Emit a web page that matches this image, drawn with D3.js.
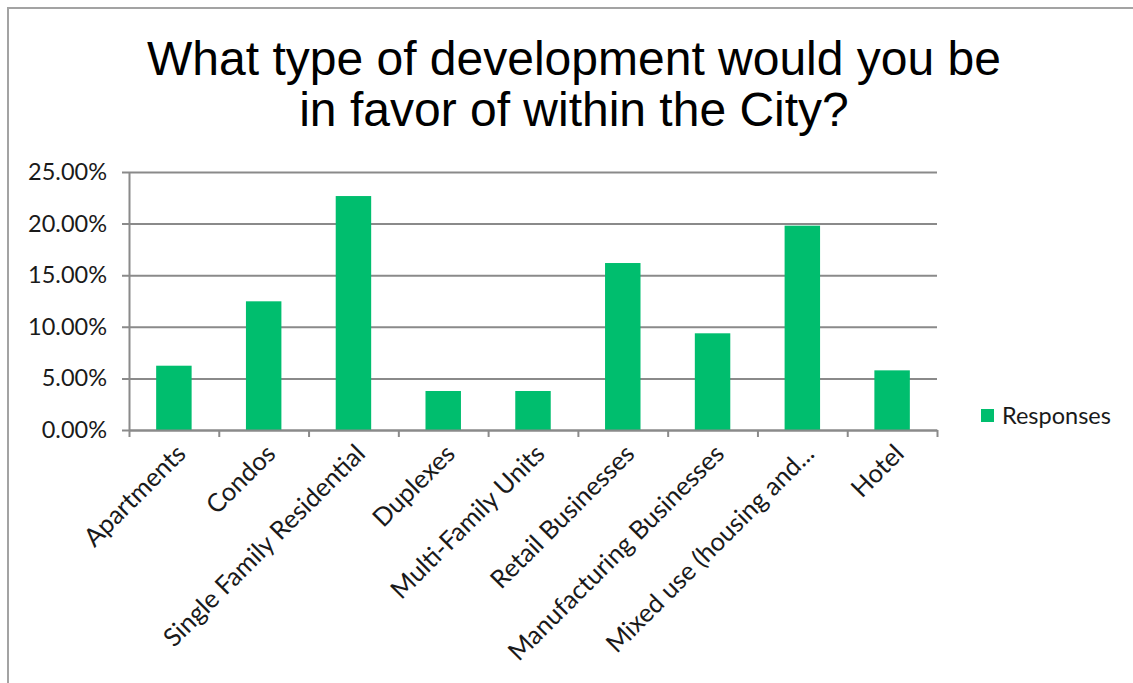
<!DOCTYPE html>
<html>
<head>
<meta charset="utf-8">
<script src="https://cdn.jsdelivr.net/npm/d3@7"></script>
<style>
  html, body { margin: 0; padding: 0; background: #fff; }
  svg { display: block; }
</style>
</head>
<body>
<svg id="chart" width="1133" height="683"></svg>
<script>
// Survey results: share of responses per development type
const categories = [
  "Apartments",
  "Condos",
  "Single Family Residential",
  "Duplexes",
  "Multi-Family Units",
  "Retail Businesses",
  "Manufacturing Businesses",
  "Mixed use (housing and...",
  "Hotel"
];
const responses = [0.0623, 0.1247, 0.2267, 0.0378, 0.0378, 0.1618, 0.0937, 0.1980, 0.0578];
const yTicks = [0, 0.05, 0.10, 0.15, 0.20, 0.25];
const seriesName = "Responses";
const titleLines = ["What type of development would you be", "in favor of within the City?"];

const W = 1133, H = 683;
const plot = { left: 129, right: 937, top: 172, bottom: 430 };
const barColor = "#00be6e";
const gridColor = "#8a8a8a";
const labelFont = "Lato, 'Open Sans', sans-serif";

const svg = d3.select("#chart");

svg.append("rect").attr("width", W).attr("height", H).attr("fill", "#fff");

// chart frame (top and left edges)
svg.append("path")
  .attr("d", `M8,${H} V8 H${W}`)
  .attr("fill", "none")
  .attr("stroke", "#a3a3a3")
  .attr("stroke-width", 2);

// title
const title = svg.append("text")
  .attr("text-anchor", "middle")
  .attr("font-family", "'Liberation Sans', Arial, sans-serif")
  .attr("font-size", 48)
  .attr("fill", "#000");
titleLines.forEach((line, i) => {
  title.append("tspan")
    .attr("x", 574)
    .attr("y", 75 + i * 51)
    .text(line);
});

const x = d3.scaleBand()
  .domain(categories)
  .range([plot.left, plot.right])
  .paddingInner(0.605)
  .paddingOuter(0.3025);

const y = d3.scaleLinear()
  .domain([0, 0.25])
  .range([plot.bottom, plot.top]);

// horizontal gridlines + y tick labels
const gridAxis = d3.axisLeft(y)
  .tickValues(yTicks)
  .tickSize(plot.right - plot.left + 7)
  .tickPadding(15)
  .tickFormat(d3.format(".2%"));

const gy = svg.append("g")
  .attr("transform", `translate(${plot.right},0)`)
  .call(gridAxis);
gy.select(".domain").remove();
gy.selectAll(".tick line")
  .attr("stroke", gridColor)
  .attr("stroke-width", 2);
gy.selectAll(".tick text")
  .attr("font-family", labelFont)
  .attr("font-size", 23.5)
  .attr("fill", "#1a1a1a");

// vertical axis line
svg.append("g")
  .attr("transform", `translate(${plot.left},0)`)
  .call(d3.axisLeft(y).tickValues([]).tickSizeOuter(0))
  .select(".domain")
  .attr("stroke", gridColor)
  .attr("stroke-width", 2);

// bars
svg.append("g")
  .selectAll("rect")
  .data(categories.map((c, i) => ({ c, v: responses[i] })))
  .join("rect")
  .attr("x", d => x(d.c))
  .attr("width", x.bandwidth())
  .attr("y", d => y(d.v))
  .attr("height", d => y(0) - y(d.v))
  .attr("fill", barColor);

// category axis: baseline with tick marks between categories
const edges = d3.scaleLinear().domain([0, categories.length]).range([plot.left, plot.right]);
const gxTicks = svg.append("g")
  .attr("transform", `translate(0,${plot.bottom})`)
  .call(d3.axisBottom(edges)
    .tickValues(d3.range(categories.length + 1))
    .tickSize(7)
    .tickSizeOuter(0)
    .tickFormat(""));
gxTicks.select(".domain").attr("stroke", gridColor).attr("stroke-width", 2);
gxTicks.selectAll(".tick line").attr("stroke", gridColor).attr("stroke-width", 2);

// rotated category labels
const gxLabels = svg.append("g")
  .attr("transform", `translate(0,${plot.bottom})`)
  .call(d3.axisBottom(x).tickSize(0));
gxLabels.select(".domain").remove();
gxLabels.selectAll(".tick text")
  .attr("x", 0)
  .attr("y", 0)
  .attr("dy", "0.35em")
  .attr("text-anchor", "end")
  .attr("transform", "translate(7,19) rotate(-45)")
  .attr("font-family", labelFont)
  .attr("font-size", 25.5)
  .attr("fill", "#1a1a1a");

// legend
const legend = svg.append("g").attr("transform", "translate(981,409)");
legend.append("rect")
  .attr("width", 13)
  .attr("height", 13)
  .attr("fill", barColor);
legend.append("text")
  .attr("x", 21)
  .attr("y", 6.5)
  .attr("dy", "0.35em")
  .attr("font-family", labelFont)
  .attr("font-size", 23.5)
  .attr("fill", "#1a1a1a")
  .text(seriesName);
</script>
</body>
</html>
